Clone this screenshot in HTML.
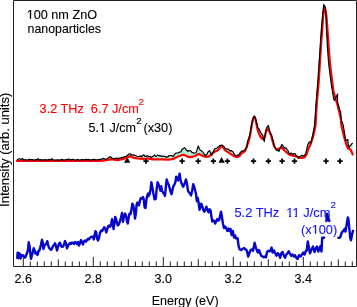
<!DOCTYPE html>
<html><head><meta charset="utf-8"><style>
html,body{margin:0;padding:0;background:#fff;}
body{width:357px;height:307px;overflow:hidden;}
svg{display:block;}
text{font-family:"Liberation Sans",sans-serif;stroke-width:0.12px;}
.tx{will-change:transform;}
</style></head><body>
<svg width="357" height="307" viewBox="0 0 357 307" xmlns="http://www.w3.org/2000/svg">
<defs><filter id="soft" x="-5%" y="-20%" width="110%" height="140%"><feGaussianBlur stdDeviation="0.3"/></filter></defs>
<rect width="357" height="307" fill="#fff"/>
<polygon points="17.0,159.6 17.2,159.5 17.5,159.4 17.8,159.3 18.0,159.2 18.2,159.1 18.5,159.0 18.8,158.9 19.0,158.9 19.2,158.9 19.5,158.8 19.8,158.8 20.0,158.9 20.2,159.0 20.5,159.1 20.8,159.2 21.0,159.3 21.2,159.4 21.5,159.2 21.8,159.1 22.0,158.9 22.2,158.8 22.5,158.6 22.8,158.7 23.0,159.0 23.2,159.3 23.5,159.6 23.8,159.8 24.0,160.1 24.2,160.0 24.5,159.9 24.8,159.8 25.0,159.7 25.2,159.6 25.5,159.6 25.8,159.7 26.0,159.8 26.2,159.9 26.5,160.1 26.8,160.2 27.0,160.1 27.2,160.0 27.5,160.0 27.8,159.9 28.0,159.8 28.2,159.7 28.5,159.6 28.8,159.6 29.0,159.5 29.2,159.5 29.5,159.4 29.8,159.4 30.0,159.5 30.2,159.5 30.5,159.5 30.8,159.6 31.0,159.6 31.2,159.6 31.5,159.6 31.8,159.5 32.0,159.5 32.2,159.5 32.5,159.5 32.8,159.6 33.0,159.7 33.2,159.8 33.5,159.9 33.8,160.1 34.0,160.1 34.2,160.0 34.5,160.0 34.8,159.9 35.0,159.9 35.2,159.9 35.5,159.8 35.8,159.8 36.0,159.8 36.2,159.7 36.5,159.7 36.8,159.6 37.0,159.4 37.2,159.2 37.5,159.1 37.8,158.9 38.0,158.7 38.2,159.0 38.5,159.2 38.8,159.4 39.0,159.6 39.2,159.8 39.5,159.9 39.8,159.9 40.0,159.8 40.2,159.8 40.5,159.7 40.8,159.6 41.0,159.7 41.2,159.7 41.5,159.7 41.8,159.7 42.0,159.7 42.2,159.8 42.5,159.8 42.8,159.9 43.0,159.9 43.2,160.0 43.5,160.0 43.8,160.0 44.0,159.9 44.2,159.8 44.5,159.7 44.8,159.7 45.0,159.6 45.2,159.6 45.5,159.7 45.8,159.7 46.0,159.8 46.2,159.8 46.5,159.8 46.8,159.9 47.0,159.9 47.2,159.9 47.5,160.0 47.8,160.0 48.0,159.9 48.2,159.8 48.5,159.7 48.8,159.6 49.0,159.5 49.2,159.4 49.5,159.5 49.8,159.6 50.0,159.8 50.2,159.9 50.5,160.0 50.8,159.9 51.0,159.7 51.2,159.4 51.5,159.2 51.8,159.0 52.0,158.8 52.2,159.0 52.5,159.2 52.8,159.4 53.0,159.7 53.2,159.9 53.5,160.0 53.8,160.1 54.0,160.1 54.2,160.1 54.5,160.1 54.8,160.1 55.0,160.1 55.2,160.1 55.5,160.1 55.8,160.0 56.0,160.0 56.2,160.0 56.5,160.0 56.8,159.9 57.0,159.9 57.2,159.9 57.5,159.9 57.8,159.9 58.0,159.9 58.2,160.0 58.5,160.0 58.8,160.1 59.0,160.1 59.2,160.0 59.5,160.0 59.8,159.9 60.0,159.9 60.2,159.8 60.5,159.8 60.8,159.7 61.0,159.6 61.2,159.6 61.5,159.5 61.8,159.4 62.0,159.5 62.2,159.6 62.5,159.7 62.8,159.8 63.0,159.9 63.2,159.9 63.5,160.0 63.8,160.0 64.0,160.0 64.2,160.1 64.5,160.1 64.8,160.0 65.0,160.0 65.2,159.9 65.5,159.8 65.8,159.8 66.0,159.7 66.2,159.6 66.5,159.6 66.8,159.5 67.0,159.5 67.2,159.4 67.5,159.3 67.8,159.3 68.0,159.2 68.2,159.1 68.5,159.0 68.8,159.0 69.0,159.1 69.2,159.3 69.5,159.5 69.8,159.7 70.0,159.9 70.2,160.0 70.5,159.9 70.8,159.9 71.0,159.8 71.2,159.7 71.5,159.6 71.8,159.5 72.0,159.5 72.2,159.4 72.5,159.4 72.8,159.3 73.0,159.3 73.2,159.4 73.5,159.5 73.8,159.6 74.0,159.7 74.2,159.8 74.5,159.9 74.8,159.9 75.0,159.9 75.2,160.0 75.5,160.0 75.8,160.1 76.0,160.0 76.2,159.9 76.5,159.8 76.8,159.8 77.0,159.7 77.2,159.6 77.5,159.6 77.8,159.6 78.0,159.6 78.2,159.7 78.5,159.7 78.8,159.7 79.0,159.8 79.2,159.9 79.5,160.0 79.8,160.1 80.0,160.2 80.2,160.1 80.5,160.0 80.8,159.8 81.0,159.7 81.2,159.6 81.5,159.5 81.8,159.5 82.0,159.5 82.2,159.5 82.5,159.5 82.8,159.6 83.0,159.6 83.2,159.7 83.5,159.7 83.8,159.8 84.0,159.8 84.2,159.9 84.5,159.8 84.8,159.7 85.0,159.6 85.2,159.5 85.5,159.4 85.8,159.4 86.0,159.4 86.2,159.5 86.5,159.6 86.8,159.6 87.0,159.7 87.2,159.6 87.5,159.4 87.8,159.3 88.0,159.2 88.2,159.3 88.5,159.4 88.8,159.5 89.0,159.6 89.2,159.8 89.5,159.9 89.8,160.0 90.0,160.1 90.2,160.0 90.5,160.0 90.8,159.9 91.0,159.9 91.2,159.8 91.5,159.8 91.8,159.8 92.0,159.7 92.2,159.7 92.5,159.6 92.8,159.6 93.0,159.6 93.2,159.5 93.5,159.5 93.8,159.4 94.0,159.4 94.2,159.5 94.5,159.5 94.8,159.6 95.0,159.7 95.2,159.7 95.5,159.8 95.8,159.8 96.0,159.9 96.2,159.9 96.5,159.8 96.8,159.8 97.0,159.8 97.2,159.8 97.5,159.8 97.8,159.7 98.0,159.7 98.2,159.7 98.5,159.6 98.8,159.6 99.0,159.6 99.2,159.5 99.5,159.5 99.8,159.4 100.0,159.4 100.2,159.4 100.5,159.3 100.8,159.3 101.0,159.3 101.2,159.3 101.5,159.2 101.8,159.2 102.0,159.2 102.2,159.1 102.5,158.9 102.8,158.8 103.0,158.7 103.2,158.5 103.5,158.4 103.8,158.5 104.0,158.7 104.2,158.8 104.5,158.9 104.8,159.1 105.0,159.2 105.2,159.1 105.5,159.1 105.8,159.1 106.0,159.0 106.2,158.9 106.5,158.9 106.8,158.9 107.0,158.8 107.2,158.6 107.5,158.4 107.8,158.2 108.0,158.0 108.2,157.8 108.5,157.6 108.8,157.5 109.0,157.4 109.2,157.3 109.5,157.1 109.8,157.0 110.0,156.9 110.2,156.8 110.5,156.7 110.8,156.9 111.0,157.1 111.2,157.3 111.5,157.6 111.8,157.8 112.0,158.0 112.2,158.1 112.5,158.3 112.8,158.4 113.0,158.5 113.2,158.7 113.5,158.8 113.8,158.8 114.0,158.7 114.2,158.7 114.5,158.6 114.8,158.6 115.0,158.5 115.2,158.5 115.5,158.4 115.8,158.3 116.0,158.3 116.2,158.2 116.5,158.1 116.8,158.1 117.0,158.0 117.2,158.2 117.5,158.3 117.8,158.4 118.0,158.6 118.2,158.5 118.5,158.4 118.8,158.3 119.0,158.2 119.2,158.2 119.5,158.2 119.8,158.2 120.0,158.2 120.2,158.1 120.5,158.0 120.8,157.8 121.0,157.7 121.2,157.6 121.5,157.5 121.8,157.4 122.0,157.3 122.2,157.4 122.5,157.4 122.8,157.5 123.0,157.5 123.2,157.4 123.5,157.2 123.8,157.1 124.0,156.9 124.2,156.8 124.5,156.7 124.8,156.6 125.0,156.6 125.2,156.5 125.5,156.5 125.8,156.5 126.0,156.5 126.2,156.3 126.5,156.0 126.8,155.8 127.0,155.6 127.2,155.4 127.5,155.2 127.8,155.0 128.0,154.8 128.2,154.6 128.5,154.4 128.8,154.2 129.0,154.0 129.2,153.9 129.5,153.8 129.8,153.8 130.0,153.7 130.2,153.9 130.5,154.1 130.8,154.2 131.0,154.4 131.2,154.6 131.5,154.8 131.8,155.0 132.0,155.2 132.2,155.1 132.5,155.0 132.8,154.8 133.0,154.7 133.2,154.8 133.5,155.0 133.8,155.1 134.0,155.2 134.2,155.2 134.5,155.3 134.8,155.3 135.0,155.4 135.2,155.4 135.5,155.5 135.8,155.6 136.0,155.7 136.2,155.8 136.5,155.9 136.8,156.0 137.0,156.2 137.2,156.2 137.5,156.3 137.8,156.4 138.0,156.5 138.2,156.5 138.5,156.5 138.8,156.5 139.0,156.6 139.2,156.4 139.5,156.3 139.8,156.2 140.0,156.1 140.2,156.0 140.5,156.0 140.8,155.9 141.0,155.9 141.2,156.1 141.5,156.3 141.8,156.6 142.0,156.8 142.2,156.4 142.5,155.9 142.8,155.5 143.0,155.2 143.2,155.0 143.5,154.8 143.8,154.9 144.0,155.0 144.2,155.1 144.5,155.5 144.8,156.0 145.0,156.5 145.2,156.5 145.5,156.4 145.8,156.4 146.0,156.4 146.2,156.2 146.5,156.0 146.8,155.9 147.0,155.7 147.2,155.8 147.5,155.9 147.8,156.0 148.0,156.1 148.2,156.2 148.5,156.3 148.8,156.4 149.0,156.5 149.2,156.5 149.5,156.5 149.8,156.4 150.0,156.3 150.2,156.3 150.5,156.6 150.8,157.0 151.0,157.3 151.2,157.3 151.5,157.4 151.8,157.4 152.0,157.1 152.2,156.8 152.5,156.5 152.8,156.4 153.0,156.3 153.2,156.2 153.5,156.1 153.8,155.8 154.0,155.5 154.2,155.1 154.5,154.8 154.8,155.1 155.0,155.4 155.2,155.7 155.5,156.0 155.8,156.2 156.0,156.5 156.2,156.3 156.5,156.1 156.8,155.9 157.0,155.7 157.2,155.4 157.5,155.2 157.8,155.2 158.0,155.2 158.2,155.1 158.5,155.5 158.8,155.8 159.0,156.1 159.2,155.8 159.5,155.6 159.8,155.3 160.0,155.5 160.2,155.7 160.5,155.9 160.8,156.0 161.0,156.1 161.2,156.1 161.5,156.3 161.8,156.4 162.0,156.5 162.2,156.3 162.5,156.2 162.8,156.0 163.0,155.9 163.2,156.0 163.5,156.2 163.8,156.3 164.0,156.5 164.2,156.5 164.5,156.5 164.8,156.4 165.0,156.4 165.2,156.6 165.5,156.9 165.8,157.1 166.0,157.3 166.2,157.1 166.5,157.0 166.8,156.8 167.0,156.7 167.2,156.7 167.5,156.8 167.8,156.8 168.0,156.9 168.2,156.6 168.5,156.3 168.8,156.0 169.0,155.6 169.2,155.7 169.5,155.7 169.8,155.7 170.0,155.7 170.2,155.7 170.5,155.6 170.8,155.6 171.0,155.6 171.2,155.7 171.5,155.7 171.8,155.8 172.0,155.9 172.2,155.9 172.5,156.1 172.8,156.3 173.0,156.5 173.2,156.3 173.5,156.0 173.8,155.8 174.0,155.3 174.2,154.9 174.5,154.4 174.8,154.2 175.0,153.9 175.2,153.7 175.5,153.5 175.8,153.3 176.0,153.1 176.2,153.1 176.5,153.1 176.8,153.0 177.0,153.0 177.2,152.9 177.5,152.9 177.8,152.8 178.0,152.8 178.2,152.7 178.5,152.6 178.8,152.5 179.0,152.4 179.2,152.3 179.5,152.2 179.8,152.1 180.0,152.0 180.2,151.9 180.5,151.9 180.8,151.8 181.0,151.8 181.2,151.2 181.5,150.5 181.8,149.8 182.0,149.2 182.2,149.1 182.5,149.0 182.8,148.9 183.0,148.7 183.2,148.6 183.5,148.4 183.8,148.2 184.0,148.0 184.2,147.8 184.5,147.6 184.8,147.9 185.0,148.2 185.2,148.5 185.5,148.8 185.8,149.2 186.0,149.7 186.2,150.1 186.5,150.5 186.8,150.6 187.0,150.7 187.2,150.7 187.5,150.9 187.8,151.1 188.0,151.3 188.2,151.1 188.5,150.9 188.8,150.7 189.0,150.7 189.2,150.8 189.5,150.8 189.8,150.7 190.0,150.7 190.2,150.6 190.5,150.5 190.8,150.8 191.0,151.2 191.2,151.5 191.5,151.8 191.8,152.1 192.0,152.4 192.2,152.7 192.5,152.7 192.8,152.6 193.0,152.6 193.2,152.8 193.5,152.9 193.8,153.1 194.0,153.3 194.2,153.2 194.5,153.1 194.8,153.1 195.0,153.0 195.2,152.9 195.5,152.8 195.8,152.7 196.0,152.4 196.2,152.1 196.5,151.8 196.8,151.0 197.0,150.1 197.2,149.2 197.5,148.4 197.8,147.7 198.0,146.9 198.2,146.2 198.5,146.5 198.8,147.1 199.0,147.7 199.2,148.3 199.5,148.8 199.8,149.3 200.0,149.7 200.2,150.1 200.5,150.5 200.8,150.5 201.0,150.6 201.2,150.6 201.5,150.8 201.8,151.1 202.0,151.3 202.2,151.6 202.5,151.8 202.8,152.1 203.0,152.3 203.2,152.7 203.5,153.2 203.8,153.6 204.0,154.0 204.2,154.2 204.5,154.4 204.8,154.6 205.0,155.1 205.2,155.6 205.5,156.1 205.8,155.7 206.0,155.3 206.2,154.9 206.5,154.7 206.8,154.6 207.0,154.4 207.2,153.7 207.5,153.0 207.8,152.3 208.0,152.0 208.2,151.7 208.5,151.4 208.8,151.3 209.0,151.2 209.2,151.1 209.5,150.8 209.8,150.7 210.0,151.4 210.2,152.0 210.5,152.6 210.8,153.2 211.0,153.7 211.2,154.3 211.5,154.5 211.8,154.2 212.0,153.9 212.2,153.7 212.5,153.2 212.8,152.8 213.0,152.3 213.2,151.8 213.5,151.4 213.8,150.8 214.0,150.1 214.2,149.4 214.5,149.2 214.8,149.0 215.0,148.8 215.2,148.6 215.5,148.6 215.8,148.5 216.0,148.5 216.2,148.4 216.5,148.4 216.8,148.3 217.0,147.9 217.2,147.6 217.5,147.2 217.8,147.2 218.0,147.1 218.2,147.1 218.5,146.9 218.8,146.6 219.0,146.4 219.2,146.1 219.5,145.8 219.8,145.5 220.0,145.7 220.2,145.8 220.5,146.0 220.8,145.7 221.0,145.4 221.2,145.1 221.5,145.1 221.8,145.1 222.0,145.1 222.2,145.4 222.5,145.7 222.8,145.9 223.0,146.0 223.2,146.0 223.5,146.0 223.8,146.3 224.0,146.6 224.2,146.9 224.5,147.3 224.8,147.7 225.0,148.1 225.2,148.3 225.5,148.5 225.8,148.8 226.0,149.0 226.2,149.0 226.5,148.9 226.8,148.9 227.0,148.9 227.2,149.0 227.5,149.0 227.8,149.1 228.0,149.1 228.2,149.3 228.5,149.5 228.8,149.6 229.0,149.8 229.2,150.1 229.5,150.4 229.8,150.7 230.0,151.0 230.2,150.9 230.5,150.8 230.8,150.7 231.0,150.6 231.2,150.8 231.5,150.9 231.8,151.1 232.0,151.3 232.2,151.4 232.5,151.5 232.8,151.5 233.0,152.0 233.2,152.5 233.5,153.0 233.8,153.4 234.0,153.7 234.2,154.1 234.5,154.4 234.8,154.8 235.0,155.1 235.2,155.3 235.5,155.6 235.8,155.8 236.0,156.0 236.2,155.9 236.5,155.8 236.8,155.7 237.0,155.5 237.2,155.2 237.5,155.0 237.8,155.1 238.0,155.2 238.2,155.4 238.5,155.5 238.8,155.0 239.0,154.4 239.2,153.9 239.5,153.6 239.8,153.3 240.0,153.0 240.2,152.7 240.5,152.4 240.8,152.1 241.0,151.8 241.2,151.5 241.5,151.2 241.8,151.0 242.0,151.1 242.2,151.2 242.5,151.3 242.8,151.1 243.0,150.8 243.2,150.6 243.5,150.6 243.8,150.5 244.0,150.5 244.2,150.3 244.5,150.1 244.8,149.9 245.0,149.4 245.2,148.9 245.5,148.4 245.8,148.1 246.0,147.8 246.2,147.6 246.5,147.1 246.8,146.7 247.0,146.1 247.2,143.9 247.5,141.6 247.8,140.9 248.0,140.2 248.2,139.6 248.5,138.9 248.8,138.2 249.0,137.6 249.2,136.9 249.5,136.2 249.8,135.0 250.0,133.8 250.2,132.6 250.5,131.2 250.8,129.6 251.0,128.1 251.2,126.6 251.5,125.0 251.8,123.6 252.0,122.4 252.2,121.3 252.5,120.1 252.8,119.3 253.0,118.4 253.2,117.6 253.5,117.1 253.8,116.8 254.0,116.5 254.2,116.2 254.5,116.4 254.8,116.8 255.0,117.1 255.2,117.6 255.5,118.6 255.8,119.6 256.0,120.6 256.2,121.6 256.5,122.5 256.8,123.5 257.0,124.5 257.2,125.4 257.5,126.4 257.8,127.3 258.0,127.8 258.2,128.1 258.5,128.5 258.8,128.7 259.0,128.9 259.2,129.2 259.5,129.7 259.8,130.4 260.0,131.1 260.2,131.8 260.5,132.2 260.8,132.6 261.0,133.0 261.2,133.4 261.5,133.8 261.8,134.2 262.0,134.6 262.2,134.8 262.5,134.9 262.8,135.6 263.0,136.8 263.2,137.9 263.5,138.8 263.8,138.7 264.0,138.1 264.2,137.4 264.5,136.8 264.8,136.0 265.0,135.3 265.2,134.5 265.5,132.9 265.8,131.5 266.0,130.2 266.2,128.8 266.5,127.9 266.8,127.6 267.0,127.4 267.2,127.2 267.5,126.9 267.8,126.5 268.0,126.1 268.2,125.6 268.5,125.9 268.8,127.1 269.0,128.3 269.2,129.6 269.5,130.5 269.8,131.3 270.0,132.1 270.2,132.9 270.5,133.5 270.8,133.8 271.0,134.2 271.2,134.5 271.5,134.8 271.8,135.7 272.0,136.6 272.2,137.4 272.5,138.3 272.8,139.2 273.0,140.1 273.2,140.9 273.5,141.8 273.8,143.4 274.0,145.1 274.2,145.6 274.5,146.1 274.8,146.7 275.0,147.2 275.2,147.7 275.5,148.2 275.8,148.6 276.0,148.8 276.2,148.9 276.5,149.0 276.8,149.2 277.0,149.3 277.2,149.2 277.5,149.2 277.8,149.1 278.0,149.0 278.2,149.0 278.5,148.9 278.8,148.8 279.0,148.6 279.2,148.5 279.5,148.4 279.8,148.2 280.0,148.1 280.2,147.9 280.5,147.7 280.8,147.0 281.0,146.4 281.2,145.8 281.5,145.2 281.8,144.9 282.0,144.7 282.2,144.7 282.5,145.0 282.8,145.4 283.0,145.9 283.2,146.5 283.5,147.2 283.8,147.2 284.0,147.2 284.2,147.3 284.5,147.7 284.8,148.1 285.0,148.5 285.2,148.3 285.5,148.1 285.8,147.9 286.0,148.1 286.2,148.3 286.5,148.5 286.8,148.9 287.0,149.4 287.2,149.8 287.5,150.1 287.8,150.3 288.0,150.6 288.2,151.2 288.5,151.8 288.8,152.5 289.0,153.1 289.2,153.3 289.5,153.6 289.8,153.8 290.0,154.0 290.2,153.7 290.5,153.4 290.8,153.1 291.0,153.1 291.2,153.1 291.5,153.1 291.8,153.3 292.0,153.5 292.2,153.7 292.5,153.9 292.8,154.2 293.0,154.4 293.2,154.2 293.5,154.0 293.8,153.8 294.0,153.7 294.2,153.6 294.5,153.5 294.8,153.6 295.0,153.8 295.2,153.9 295.5,154.3 295.8,154.8 296.0,155.2 296.2,155.5 296.5,155.8 296.8,156.0 297.0,156.2 297.2,156.3 297.5,156.5 297.8,156.9 298.0,157.2 298.2,157.3 298.5,157.4 298.8,157.6 299.0,157.3 299.2,156.8 299.5,156.7 299.8,156.6 300.0,156.5 300.2,156.4 300.5,156.2 300.8,156.1 301.0,155.9 301.2,155.8 301.5,155.6 301.8,155.5 302.0,155.4 302.2,155.3 302.5,155.6 302.8,155.9 303.0,156.2 303.2,156.0 303.5,155.8 303.8,155.7 304.0,155.6 304.2,155.6 304.5,155.2 304.8,154.8 305.0,154.5 305.2,154.4 305.5,154.3 305.8,153.3 306.0,152.4 306.2,151.4 306.5,150.4 306.8,149.2 307.0,148.1 307.2,147.0 307.5,145.8 307.8,145.2 308.0,144.5 308.2,143.8 308.5,143.2 308.8,142.9 309.0,142.6 309.2,142.2 309.5,141.9 309.8,142.2 310.0,142.6 310.2,142.9 310.5,143.2 310.8,142.4 311.0,141.6 311.2,140.8 311.5,140.0 311.8,139.0 312.0,138.0 312.2,137.0 312.5,136.0 312.8,134.7 313.0,133.4 313.2,132.2 313.5,130.9 313.8,129.6 314.0,128.3 314.2,127.0 314.5,125.7 314.8,122.2 315.0,118.6 315.2,115.1 315.5,111.5 315.8,108.0 316.0,104.4 316.2,101.3 316.5,98.1 316.8,95.0 317.0,91.8 317.2,88.7 317.5,85.5 317.8,82.3 318.0,78.7 318.2,75.1 318.5,71.5 318.8,67.9 319.0,64.3 319.2,60.8 319.5,57.2 319.8,53.6 320.0,50.0 320.2,45.8 320.5,41.7 320.8,38.0 321.0,34.5 321.2,31.1 321.5,27.7 321.8,24.5 322.0,21.7 322.2,19.0 322.5,16.3 322.8,13.6 323.0,11.2 323.2,9.0 323.5,6.9 323.8,4.8 324.0,4.9 324.2,5.6 324.5,6.2 324.8,6.6 325.0,6.8 325.2,7.6 325.5,9.9 325.8,10.9 326.0,13.0 326.2,15.1 326.5,17.2 326.8,20.0 327.0,23.3 327.2,26.7 327.5,30.0 327.8,33.6 328.0,37.1 328.2,40.7 328.5,44.3 328.8,47.9 329.0,51.3 329.2,54.4 329.5,57.5 329.8,60.6 330.0,63.7 330.2,66.2 330.5,68.2 330.8,70.2 331.0,72.2 331.2,74.2 331.5,76.2 331.8,78.2 332.0,80.2 332.2,82.2 332.5,84.2 332.8,86.1 333.0,87.9 333.2,89.7 333.5,91.5 333.8,92.4 334.0,93.2 334.2,94.1 334.5,94.9 334.8,95.8 335.0,96.6 335.2,97.5 335.5,98.2 335.8,97.7 336.0,97.2 336.2,96.7 336.5,96.2 336.8,95.7 337.0,95.3 337.2,94.8 337.5,94.3 337.8,95.2 338.0,96.9 338.2,98.7 338.5,100.4 338.8,102.2 339.0,104.0 339.2,105.7 339.5,107.5 339.8,109.2 340.0,111.0 340.2,111.3 340.5,111.6 340.8,113.5 341.0,116.4 341.2,119.4 341.5,120.5 341.8,121.2 342.0,121.9 342.2,122.6 342.5,123.3 342.8,124.0 343.0,124.7 343.2,125.5 343.5,127.0 343.8,128.5 344.0,130.0 344.2,131.5 344.5,133.0 344.8,134.5 345.0,136.0 345.2,137.5 345.5,139.0 345.8,140.5 346.0,140.7 346.2,140.5 346.5,140.3 346.8,140.2 347.0,140.0 347.2,139.9 347.5,139.7 347.8,139.5 348.0,142.5 348.2,144.5 348.5,145.5 348.8,146.4 349.0,147.3 349.2,147.0 349.5,146.7 349.8,146.4 350.0,146.1 350.2,145.7 350.5,145.4 350.8,145.1 351.0,144.8 351.2,144.5 351.5,144.2 351.8,143.9 352.0,143.6 352.2,143.2 352.5,142.9 352.5,154.2 352.2,153.5 352.0,152.8 351.8,152.0 351.5,151.5 351.2,151.1 351.0,150.7 350.8,150.2 350.5,149.8 350.2,149.5 350.0,149.4 349.8,149.3 349.5,149.2 349.2,149.1 349.0,149.0 348.8,148.9 348.5,148.8 348.2,148.7 348.0,148.4 347.8,147.9 347.5,147.4 347.2,146.9 347.0,146.4 346.8,145.8 346.5,145.0 346.2,144.2 346.0,143.4 345.8,142.6 345.5,141.8 345.2,141.0 345.0,140.1 344.8,139.3 344.5,138.3 344.2,137.3 344.0,136.2 343.8,135.2 343.5,134.2 343.2,133.2 343.0,132.2 342.8,131.2 342.5,130.2 342.2,129.1 342.0,128.1 341.8,127.1 341.5,125.6 341.2,123.3 341.0,121.1 340.8,118.8 340.5,117.1 340.2,116.1 340.0,115.1 339.8,114.0 339.5,113.0 339.2,112.0 339.0,111.0 338.8,110.0 338.5,109.0 338.2,108.0 338.0,106.9 337.8,105.9 337.5,104.9 337.2,104.0 337.0,103.2 336.8,102.4 336.5,101.6 336.2,100.8 336.0,100.0 335.8,99.1 335.5,98.3 335.2,97.5 335.0,96.6 334.8,95.8 334.5,94.9 334.2,94.1 334.0,93.2 333.8,92.4 333.5,91.5 333.2,89.7 333.0,87.9 332.8,86.1 332.5,84.2 332.2,82.2 332.0,80.2 331.8,78.2 331.5,76.2 331.2,74.2 331.0,72.2 330.8,70.2 330.5,68.2 330.2,66.2 330.0,63.7 329.8,60.6 329.5,57.5 329.2,54.4 329.0,51.3 328.8,47.9 328.5,44.3 328.2,40.7 328.0,37.1 327.8,33.6 327.5,30.0 327.2,26.7 327.0,23.3 326.8,20.0 326.5,17.2 326.2,15.1 326.0,13.0 325.8,10.9 325.5,9.9 325.2,9.2 325.0,8.5 324.8,7.8 324.5,8.4 324.2,9.1 324.0,9.7 323.8,11.3 323.5,13.5 323.2,15.7 323.0,18.4 322.8,21.8 322.5,25.3 322.2,28.7 322.0,32.0 321.8,35.3 321.5,38.7 321.2,42.1 321.0,45.7 320.8,49.3 320.5,53.1 320.2,57.1 320.0,61.0 319.8,64.9 319.5,68.9 319.2,72.8 319.0,76.7 318.8,80.6 318.5,84.1 318.2,86.9 318.0,89.8 317.8,92.6 317.5,95.4 317.2,98.2 317.0,101.0 316.8,103.8 316.5,107.9 316.2,112.4 316.0,116.8 315.8,121.3 315.5,125.7 315.2,126.8 315.0,127.9 314.8,129.1 314.5,130.2 314.2,131.3 314.0,132.5 313.8,133.7 313.5,134.8 313.2,135.8 313.0,136.8 312.8,137.7 312.5,138.7 312.2,139.4 312.0,140.2 311.8,140.9 311.5,141.7 311.2,142.4 311.0,143.2 310.8,143.8 310.5,144.3 310.2,144.8 310.0,145.4 309.8,145.9 309.5,146.5 309.2,147.0 309.0,147.6 308.8,148.1 308.5,148.6 308.2,149.2 308.0,149.7 307.8,150.5 307.5,151.2 307.2,152.0 307.0,152.8 306.8,153.5 306.5,154.3 306.2,154.7 306.0,155.1 305.8,155.4 305.5,155.8 305.2,156.2 305.0,156.6 304.8,156.9 304.5,157.3 304.2,157.4 304.0,157.5 303.8,157.5 303.5,157.6 303.2,157.7 303.0,157.8 302.8,157.8 302.5,157.9 302.2,157.9 302.0,157.9 301.8,157.9 301.5,158.0 301.2,158.0 301.0,158.0 300.8,158.0 300.5,157.9 300.2,157.9 300.0,157.8 299.8,157.8 299.5,157.8 299.2,157.7 299.0,157.7 298.8,157.6 298.5,157.4 298.2,157.3 298.0,157.2 297.8,157.1 297.5,156.9 297.2,156.8 297.0,156.7 296.8,156.6 296.5,156.5 296.2,156.5 296.0,156.4 295.8,156.3 295.5,156.2 295.2,156.2 295.0,156.1 294.8,156.0 294.5,156.0 294.2,155.9 294.0,155.8 293.8,155.8 293.5,155.7 293.2,155.7 293.0,155.6 292.8,155.5 292.5,155.5 292.2,155.4 292.0,155.4 291.8,155.3 291.5,155.3 291.2,155.2 291.0,155.2 290.8,155.1 290.5,155.0 290.2,154.9 290.0,154.8 289.8,154.7 289.5,154.6 289.2,154.5 289.0,154.4 288.8,154.2 288.5,154.0 288.2,153.8 288.0,153.6 287.8,153.3 287.5,153.1 287.2,152.9 287.0,152.7 286.8,152.5 286.5,152.3 286.2,152.1 286.0,151.8 285.8,151.6 285.5,151.4 285.2,151.2 285.0,151.0 284.8,150.7 284.5,150.5 284.2,150.2 284.0,149.9 283.8,149.7 283.5,149.4 283.2,149.2 283.0,148.9 282.8,148.7 282.5,148.4 282.2,148.2 282.0,147.9 281.8,147.6 281.5,147.4 281.2,147.2 281.0,147.4 280.8,147.6 280.5,147.8 280.2,147.9 280.0,148.1 279.8,148.2 279.5,148.4 279.2,148.5 279.0,148.6 278.8,148.8 278.5,148.9 278.2,149.0 278.0,149.0 277.8,149.1 277.5,149.2 277.2,149.2 277.0,149.3 276.8,149.2 276.5,149.0 276.2,148.9 276.0,148.8 275.8,148.6 275.5,148.5 275.2,148.1 275.0,147.7 274.8,147.2 274.5,146.8 274.2,146.4 274.0,146.0 273.8,145.1 273.5,144.2 273.2,143.4 273.0,142.5 272.8,141.7 272.5,140.8 272.2,139.9 272.0,139.1 271.8,138.1 271.5,137.1 271.2,136.1 271.0,135.3 270.8,134.7 270.5,134.2 270.2,133.6 270.0,133.0 269.8,132.3 269.5,131.7 269.2,131.1 269.0,130.7 268.8,130.3 268.5,129.9 268.2,129.6 268.0,129.2 267.8,129.1 267.5,129.4 267.2,129.7 267.0,129.9 266.8,130.2 266.5,130.7 266.2,131.2 266.0,131.9 265.8,132.8 265.5,133.7 265.2,134.5 265.0,135.3 264.8,136.0 264.5,136.8 264.2,137.4 264.0,138.1 263.8,138.7 263.5,139.1 263.2,139.0 263.0,138.9 262.8,138.9 262.5,138.8 262.2,138.7 262.0,138.5 261.8,138.3 261.5,138.2 261.2,137.8 261.0,137.5 260.8,137.1 260.5,136.8 260.2,136.4 260.0,135.8 259.8,135.3 259.5,134.7 259.2,134.2 259.0,133.6 258.8,133.0 258.5,132.3 258.2,131.7 258.0,131.0 257.8,130.0 257.5,129.1 257.2,128.1 257.0,126.9 256.8,125.5 256.5,124.0 256.2,122.8 256.0,121.5 255.8,120.2 255.5,119.0 255.2,118.5 255.0,118.1 254.8,117.6 254.5,117.2 254.2,116.9 254.0,117.4 253.8,117.9 253.5,118.5 253.2,119.0 253.0,119.5 252.8,120.6 252.5,121.7 252.2,122.7 252.0,123.8 251.8,125.3 251.5,126.9 251.2,128.4 251.0,129.9 250.8,131.5 250.5,133.0 250.2,134.2 250.0,135.4 249.8,136.6 249.5,137.8 249.2,138.8 249.0,139.7 248.8,140.7 248.5,141.6 248.2,142.3 248.0,142.9 247.8,143.6 247.5,144.3 247.2,145.2 247.0,146.1 246.8,146.9 246.5,147.8 246.2,148.3 246.0,148.8 245.8,149.4 245.5,149.9 245.2,150.4 245.0,150.9 244.8,151.1 244.5,151.3 244.2,151.5 244.0,151.8 243.8,152.0 243.5,152.2 243.2,152.4 243.0,152.6 242.8,152.8 242.5,152.9 242.2,153.1 242.0,153.2 241.8,153.4 241.5,153.6 241.2,153.7 241.0,153.9 240.8,154.2 240.5,154.6 240.2,154.9 240.0,155.3 239.8,155.7 239.5,156.0 239.2,156.1 239.0,156.3 238.8,156.4 238.5,156.5 238.2,156.7 238.0,156.8 237.8,156.8 237.5,156.8 237.2,156.8 237.0,156.8 236.8,156.8 236.5,156.8 236.2,156.8 236.0,156.8 235.8,156.7 235.5,156.6 235.2,156.5 235.0,156.4 234.8,156.4 234.5,156.3 234.2,156.2 234.0,156.1 233.8,156.0 233.5,155.8 233.2,155.7 233.0,155.6 232.8,155.4 232.5,155.2 232.2,155.1 232.0,154.9 231.8,154.7 231.5,154.5 231.2,154.4 231.0,154.2 230.8,154.0 230.5,153.9 230.2,153.7 230.0,153.6 229.8,153.4 229.5,153.2 229.2,153.1 229.0,152.9 228.8,152.7 228.5,152.6 228.2,152.4 228.0,152.2 227.8,152.1 227.5,151.9 227.2,151.8 227.0,151.6 226.8,151.4 226.5,151.2 226.2,151.0 226.0,150.8 225.8,150.6 225.5,150.4 225.2,150.2 225.0,150.0 224.8,149.7 224.5,149.3 224.2,148.9 224.0,148.6 223.8,148.2 223.5,147.9 223.2,147.6 223.0,147.2 222.8,146.9 222.5,146.5 222.2,146.2 222.0,145.8 221.8,146.0 221.5,146.2 221.2,146.4 221.0,146.6 220.8,146.8 220.5,147.0 220.2,147.3 220.0,147.7 219.8,148.1 219.5,148.4 219.2,148.8 219.0,149.1 218.8,149.3 218.5,149.5 218.2,149.7 218.0,149.9 217.8,150.2 217.5,150.4 217.2,150.6 217.0,150.8 216.8,150.9 216.5,151.0 216.2,151.1 216.0,151.2 215.8,151.3 215.5,151.4 215.2,151.5 215.0,151.6 214.8,151.8 214.5,151.9 214.2,152.1 214.0,152.2 213.8,152.4 213.5,152.6 213.2,152.7 213.0,152.9 212.8,153.2 212.5,153.4 212.2,153.7 212.0,153.9 211.8,154.2 211.5,154.5 211.2,154.7 211.0,155.0 210.8,155.2 210.5,155.3 210.2,155.5 210.0,155.7 209.8,155.9 209.5,156.1 209.2,156.2 209.0,156.4 208.8,156.5 208.5,156.6 208.2,156.6 208.0,156.7 207.8,156.8 207.5,156.8 207.2,156.9 207.0,157.0 206.8,156.9 206.5,156.9 206.2,156.8 206.0,156.8 205.8,156.8 205.5,156.7 205.2,156.7 205.0,156.6 204.8,156.5 204.5,156.4 204.2,156.3 204.0,156.2 203.8,156.2 203.5,156.1 203.2,156.0 203.0,155.9 202.8,155.8 202.5,155.7 202.2,155.5 202.0,155.4 201.8,155.3 201.5,155.2 201.2,155.0 201.0,154.9 200.8,154.8 200.5,154.7 200.2,154.5 200.0,154.4 199.8,154.3 199.5,154.2 199.2,154.0 199.0,153.9 198.8,154.0 198.5,154.1 198.2,154.2 198.0,154.4 197.8,154.5 197.5,154.6 197.2,154.8 197.0,154.9 196.8,155.1 196.5,155.2 196.2,155.3 196.0,155.5 195.8,155.7 195.5,155.8 195.2,155.9 195.0,156.0 194.8,156.1 194.5,156.2 194.2,156.2 194.0,156.3 193.8,156.4 193.5,156.5 193.2,156.6 193.0,156.7 192.8,156.7 192.5,156.8 192.2,156.8 192.0,156.8 191.8,156.9 191.5,156.9 191.2,156.9 191.0,157.0 190.8,157.0 190.5,157.0 190.2,157.1 190.0,157.1 189.8,157.0 189.5,157.0 189.2,156.9 189.0,156.9 188.8,156.8 188.5,156.8 188.2,156.8 188.0,156.7 187.8,156.7 187.5,156.6 187.2,156.5 187.0,156.3 186.8,156.2 186.5,156.1 186.2,155.9 186.0,155.8 185.8,155.6 185.5,155.5 185.2,155.4 185.0,155.3 184.8,155.2 184.5,155.1 184.2,155.0 184.0,154.9 183.8,154.8 183.5,154.7 183.2,154.8 183.0,154.8 182.8,154.9 182.5,154.9 182.2,155.0 182.0,155.1 181.8,155.1 181.5,155.2 181.2,155.3 181.0,155.4 180.8,155.5 180.5,155.6 180.2,155.7 180.0,155.8 179.8,155.9 179.5,156.0 179.2,156.1 179.0,156.2 178.8,156.3 178.5,156.4 178.2,156.5 178.0,156.6 177.8,156.7 177.5,156.8 177.2,156.9 177.0,157.0 176.8,157.1 176.5,157.2 176.2,157.3 176.0,157.4 175.8,157.6 175.5,157.7 175.2,157.8 175.0,157.9 174.8,158.1 174.5,158.2 174.2,158.4 174.0,158.6 173.8,158.7 173.5,158.7 173.2,158.8 173.0,158.8 172.8,158.9 172.5,158.9 172.2,159.0 172.0,159.1 171.8,159.1 171.5,159.2 171.2,159.2 171.0,159.3 170.8,159.3 170.5,159.4 170.2,159.4 170.0,159.4 169.8,159.4 169.5,159.4 169.2,159.5 169.0,159.5 168.8,159.5 168.5,159.6 168.2,159.6 168.0,159.6 167.8,159.6 167.5,159.6 167.2,159.6 167.0,159.6 166.8,159.6 166.5,159.5 166.2,159.5 166.0,159.5 165.8,159.5 165.5,159.5 165.2,159.5 165.0,159.5 164.8,159.5 164.5,159.5 164.2,159.4 164.0,159.4 163.8,159.4 163.5,159.4 163.2,159.4 163.0,159.4 162.8,159.4 162.5,159.4 162.2,159.4 162.0,159.4 161.8,159.4 161.5,159.4 161.2,159.4 161.0,159.4 160.8,159.4 160.5,159.4 160.2,159.4 160.0,159.4 159.8,159.4 159.5,159.4 159.2,159.4 159.0,159.4 158.8,159.4 158.5,159.4 158.2,159.4 158.0,159.4 157.8,159.4 157.5,159.4 157.2,159.4 157.0,159.4 156.8,159.4 156.5,159.4 156.2,159.4 156.0,159.4 155.8,159.4 155.5,159.4 155.2,159.3 155.0,159.3 154.8,159.3 154.5,159.3 154.2,159.3 154.0,159.3 153.8,159.3 153.5,159.3 153.2,159.3 153.0,159.3 152.8,159.3 152.5,159.2 152.2,159.2 152.0,159.1 151.8,159.1 151.5,159.1 151.2,159.0 151.0,159.0 150.8,158.9 150.5,158.9 150.2,158.8 150.0,158.8 149.8,158.8 149.5,158.7 149.2,158.7 149.0,158.6 148.8,158.6 148.5,158.5 148.2,158.5 148.0,158.4 147.8,158.4 147.5,158.4 147.2,158.5 147.0,158.5 146.8,158.5 146.5,158.6 146.2,158.6 146.0,158.6 145.8,158.6 145.5,158.6 145.2,158.7 145.0,158.7 144.8,158.7 144.5,158.7 144.2,158.7 144.0,158.7 143.8,158.8 143.5,158.8 143.2,158.8 143.0,158.8 142.8,158.8 142.5,158.8 142.2,158.8 142.0,158.7 141.8,158.7 141.5,158.7 141.2,158.7 141.0,158.7 140.8,158.7 140.5,158.6 140.2,158.6 140.0,158.6 139.8,158.6 139.5,158.6 139.2,158.6 139.0,158.5 138.8,158.5 138.5,158.5 138.2,158.5 138.0,158.5 137.8,158.4 137.5,158.4 137.2,158.4 137.0,158.4 136.8,158.4 136.5,158.3 136.2,158.3 136.0,158.2 135.8,158.2 135.5,158.2 135.2,158.1 135.0,158.1 134.8,158.0 134.5,158.0 134.2,157.9 134.0,157.9 133.8,157.8 133.5,157.7 133.2,157.5 133.0,157.4 132.8,157.3 132.5,157.2 132.2,157.0 132.0,156.9 131.8,156.8 131.5,156.6 131.2,156.5 131.0,156.4 130.8,156.2 130.5,156.1 130.2,156.2 130.0,156.2 129.8,156.3 129.5,156.4 129.2,156.4 129.0,156.5 128.8,156.7 128.5,156.8 128.2,157.0 128.0,157.2 127.8,157.3 127.5,157.5 127.2,157.6 127.0,157.8 126.8,157.9 126.5,157.9 126.2,158.0 126.0,158.1 125.8,158.1 125.5,158.2 125.2,158.3 125.0,158.3 124.8,158.4 124.5,158.5 124.2,158.5 124.0,158.6 123.8,158.7 123.5,158.7 123.2,158.8 123.0,158.9 122.8,158.9 122.5,159.0 122.2,159.1 122.0,159.1 121.8,159.2 121.5,159.3 121.2,159.3 121.0,159.4 120.8,159.5 120.5,159.5 120.2,159.6 120.0,159.6 119.8,159.7 119.5,159.8 119.2,159.8 119.0,159.9 118.8,159.9 118.5,160.0 118.2,160.0 118.0,160.1 117.8,160.1 117.5,160.0 117.2,160.0 117.0,160.0 116.8,160.0 116.5,159.9 116.2,159.9 116.0,159.9 115.8,159.9 115.5,159.8 115.2,159.8 115.0,159.8 114.8,159.8 114.5,159.8 114.2,159.7 114.0,159.7 113.8,159.6 113.5,159.6 113.2,159.5 113.0,159.4 112.8,159.4 112.5,159.3 112.2,159.3 112.0,159.2 111.8,159.2 111.5,159.2 111.2,159.3 111.0,159.3 110.8,159.3 110.5,159.3 110.2,159.4 110.0,159.4 109.8,159.5 109.5,159.5 109.2,159.6 109.0,159.7 108.8,159.7 108.5,159.8 108.2,159.8 108.0,159.9 107.8,159.9 107.5,160.0 107.2,160.0 107.0,160.0 106.8,160.1 106.5,160.1 106.2,160.1 106.0,160.2 105.8,160.2 105.5,160.2 105.2,160.3 105.0,160.3 104.8,160.3 104.5,160.4 104.2,160.4 104.0,160.4 103.8,160.4 103.5,160.5 103.2,160.5 103.0,160.5 102.8,160.5 102.5,160.6 102.2,160.6 102.0,160.6 101.8,160.6 101.5,160.7 101.2,160.7 101.0,160.7 100.8,160.7 100.5,160.8 100.2,160.8 100.0,160.8 99.8,160.8 99.5,160.8 99.2,160.8 99.0,160.8 98.8,160.8 98.5,160.8 98.2,160.8 98.0,160.8 97.8,160.8 97.5,160.8 97.2,160.8 97.0,160.8 96.8,160.8 96.5,160.8 96.2,160.8 96.0,160.8 95.8,160.8 95.5,160.8 95.2,160.8 95.0,160.8 94.8,160.8 94.5,160.8 94.2,160.8 94.0,160.8 93.8,160.8 93.5,160.8 93.2,160.8 93.0,160.8 92.8,160.8 92.5,160.8 92.2,160.8 92.0,160.8 91.8,160.8 91.5,160.8 91.2,160.8 91.0,160.8 90.8,160.8 90.5,160.8 90.2,160.8 90.0,160.8 89.8,160.8 89.5,160.8 89.2,160.8 89.0,160.8 88.8,160.8 88.5,160.8 88.2,160.8 88.0,160.8 87.8,160.8 87.5,160.8 87.2,160.8 87.0,160.8 86.8,160.8 86.5,160.8 86.2,160.8 86.0,160.8 85.8,160.8 85.5,160.8 85.2,160.8 85.0,160.8 84.8,160.8 84.5,160.8 84.2,160.8 84.0,160.8 83.8,160.8 83.5,160.8 83.2,160.8 83.0,160.8 82.8,160.8 82.5,160.8 82.2,160.8 82.0,160.8 81.8,160.8 81.5,160.8 81.2,160.8 81.0,160.8 80.8,160.8 80.5,160.8 80.2,160.8 80.0,160.8 79.8,160.8 79.5,160.8 79.2,160.8 79.0,160.8 78.8,160.8 78.5,160.8 78.2,160.8 78.0,160.8 77.8,160.8 77.5,160.8 77.2,160.8 77.0,160.8 76.8,160.8 76.5,160.8 76.2,160.8 76.0,160.8 75.8,160.8 75.5,160.8 75.2,160.8 75.0,160.8 74.8,160.8 74.5,160.8 74.2,160.8 74.0,160.8 73.8,160.8 73.5,160.8 73.2,160.8 73.0,160.8 72.8,160.8 72.5,160.8 72.2,160.8 72.0,160.8 71.8,160.8 71.5,160.8 71.2,160.8 71.0,160.8 70.8,160.8 70.5,160.8 70.2,160.8 70.0,160.8 69.8,160.8 69.5,160.8 69.2,160.8 69.0,160.8 68.8,160.8 68.5,160.8 68.2,160.8 68.0,160.8 67.8,160.8 67.5,160.8 67.2,160.8 67.0,160.8 66.8,160.8 66.5,160.8 66.2,160.8 66.0,160.8 65.8,160.8 65.5,160.8 65.2,160.8 65.0,160.8 64.8,160.8 64.5,160.8 64.2,160.8 64.0,160.8 63.8,160.8 63.5,160.8 63.2,160.8 63.0,160.8 62.8,160.8 62.5,160.8 62.2,160.8 62.0,160.8 61.8,160.8 61.5,160.8 61.2,160.8 61.0,160.8 60.8,160.8 60.5,160.8 60.2,160.8 60.0,160.8 59.8,160.8 59.5,160.8 59.2,160.8 59.0,160.8 58.8,160.8 58.5,160.8 58.2,160.8 58.0,160.8 57.8,160.8 57.5,160.8 57.2,160.8 57.0,160.8 56.8,160.8 56.5,160.8 56.2,160.8 56.0,160.8 55.8,160.8 55.5,160.8 55.2,160.8 55.0,160.8 54.8,160.8 54.5,160.8 54.2,160.8 54.0,160.8 53.8,160.8 53.5,160.8 53.2,160.8 53.0,160.8 52.8,160.8 52.5,160.8 52.2,160.8 52.0,160.8 51.8,160.8 51.5,160.8 51.2,160.8 51.0,160.8 50.8,160.8 50.5,160.8 50.2,160.8 50.0,160.9 49.8,160.9 49.5,160.9 49.2,160.9 49.0,160.9 48.8,160.9 48.5,160.9 48.2,160.9 48.0,160.9 47.8,160.9 47.5,160.9 47.2,160.9 47.0,160.9 46.8,160.9 46.5,160.9 46.2,160.9 46.0,160.9 45.8,160.9 45.5,160.9 45.2,160.9 45.0,160.9 44.8,160.9 44.5,160.9 44.2,160.9 44.0,160.9 43.8,160.9 43.5,160.9 43.2,160.9 43.0,160.9 42.8,160.9 42.5,160.9 42.2,160.9 42.0,160.9 41.8,160.9 41.5,160.9 41.2,160.9 41.0,160.9 40.8,160.9 40.5,160.9 40.2,160.9 40.0,160.9 39.8,160.9 39.5,160.9 39.2,160.9 39.0,160.9 38.8,160.9 38.5,160.9 38.2,160.9 38.0,160.9 37.8,160.9 37.5,160.9 37.2,160.9 37.0,160.9 36.8,160.9 36.5,160.9 36.2,160.9 36.0,160.9 35.8,160.9 35.5,160.9 35.2,160.9 35.0,160.9 34.8,160.9 34.5,160.9 34.2,160.9 34.0,160.9 33.8,160.9 33.5,160.9 33.2,160.9 33.0,160.9 32.8,160.9 32.5,160.9 32.2,160.9 32.0,160.9 31.8,160.9 31.5,160.9 31.2,160.9 31.0,160.9 30.8,160.9 30.5,160.9 30.2,160.9 30.0,160.9 29.8,160.9 29.5,160.9 29.2,160.9 29.0,160.9 28.8,160.9 28.5,160.9 28.2,160.9 28.0,160.9 27.8,160.9 27.5,160.9 27.2,160.9 27.0,160.9 26.8,160.9 26.5,160.9 26.2,160.9 26.0,160.9 25.8,160.9 25.5,160.9 25.2,160.9 25.0,160.9 24.8,160.9 24.5,160.9 24.2,160.9 24.0,160.9 23.8,160.9 23.5,160.9 23.2,160.9 23.0,160.9 22.8,160.9 22.5,160.9 22.2,160.9 22.0,160.9 21.8,160.9 21.5,160.9 21.2,160.9 21.0,160.9 20.8,160.9 20.5,160.9 20.2,160.9 20.0,160.9 19.8,160.9 19.5,160.9 19.2,160.9 19.0,160.9 18.8,160.9 18.5,160.9 18.2,160.9 18.0,160.9 17.8,160.9 17.5,160.9 17.2,160.9 17.0,160.9" fill="#b4eed8" stroke="none"/>
<g fill="#000"><polygon points="124.05,162.8 130.35,162.8 127.20,157.0" /><polygon points="218.45,162.8 224.75,162.8 221.60,157.0" /></g>
<polyline points="17.0,160.9 40.0,160.9 60.0,160.8 88.0,160.8 100.0,160.8 105.0,160.3 108.0,159.9 110.0,159.4 112.0,159.2 114.0,159.7 118.0,160.1 121.0,159.4 124.0,158.6 127.0,157.8 129.0,156.5 130.5,156.1 132.0,156.9 134.0,157.9 137.0,158.4 140.0,158.6 143.0,158.8 146.0,158.6 148.0,158.4 150.0,158.8 153.0,159.3 158.0,159.4 163.0,159.4 168.0,159.6 171.0,159.3 174.0,158.6 175.0,157.9 177.0,157.0 179.0,156.2 181.5,155.2 183.5,154.7 185.5,155.5 187.5,156.6 190.0,157.1 193.0,156.7 195.5,155.8 197.5,154.6 199.0,153.9 201.0,154.9 203.0,155.9 205.0,156.6 207.0,157.0 209.0,156.4 211.0,155.0 213.0,152.9 215.0,151.6 217.0,150.8 219.0,149.1 220.5,147.0 222.0,145.8 223.5,147.9 225.0,150.0 227.0,151.6 229.0,152.9 231.0,154.2 233.0,155.6 234.0,156.1 236.0,156.8 238.0,156.8 239.5,156.0 241.0,153.9 243.0,152.6 245.0,150.9 246.5,147.8 247.5,144.3 248.5,141.6 249.5,137.8 250.5,133.0 251.3,128.1 252.0,123.8 253.0,119.5 254.3,116.8 255.5,119.0 256.5,124.0 257.1,127.5 258.0,131.0 258.9,133.4 260.3,136.5 261.5,138.2 262.5,138.8 263.6,139.1 264.5,136.8 265.4,134.1 266.1,131.5 266.8,130.1 267.9,129.0 269.3,131.2 270.2,133.5 271.1,135.5 272.0,139.1 273.0,142.5 274.0,146.0 275.5,148.5 277.0,149.3 278.5,148.9 280.0,148.1 281.3,147.2 283.0,148.9 285.0,151.0 287.0,152.7 289.0,154.4 291.0,155.2 293.0,155.6 295.0,156.1 297.0,156.7 299.0,157.7 301.0,158.0 302.5,157.9 304.5,157.3 306.5,154.3 308.0,149.7 309.5,146.5 311.0,143.2 312.5,138.7 313.5,134.8 314.5,130.2 315.5,125.7 316.7,104.4 318.6,83.0 320.7,50.0 321.4,40.0 322.3,28.0 323.1,17.0 323.9,10.0 324.8,7.8 325.7,10.5 326.6,18.0 327.5,30.0 328.9,50.0 330.1,65.0 332.6,85.0 333.5,91.5 335.4,98.0 337.4,104.5 339.0,111.0 340.6,117.5 341.6,126.5 343.2,133.0 344.8,139.5 346.8,146.0 348.1,148.6 350.4,149.6 351.7,151.9 352.6,154.5" fill="none" stroke="#ff0000" stroke-width="2.2" stroke-linejoin="round" stroke-linecap="round"/>
<polyline points="17.0,159.6 18.4,159.0 19.8,158.8 21.2,159.4 22.6,158.6 24.0,160.1 25.4,159.6 26.8,160.2 28.2,159.7 29.6,159.4 31.0,159.6 32.4,159.5 33.8,160.1 35.2,159.9 36.6,159.7 38.0,158.7 39.4,160.0 40.8,159.6 42.2,159.8 43.6,160.1 45.0,159.6 46.4,159.8 47.8,160.0 49.2,159.4 50.6,160.0 52.0,158.8 53.4,160.0 54.8,160.1 56.2,160.0 57.6,159.9 59.0,160.1 60.4,159.8 61.8,159.4 63.2,159.9 64.6,160.1 66.0,159.7 67.4,159.4 68.8,159.0 70.2,160.0 71.6,159.6 73.0,159.3 74.4,159.8 75.8,160.1 77.2,159.6 78.6,159.7 80.0,160.2 81.4,159.5 82.8,159.6 84.2,159.9 85.6,159.4 87.0,159.7 88.0,159.2 90.0,160.1 92.0,159.7 94.0,159.4 96.0,159.9 98.0,159.7 100.0,159.4 102.0,159.2 103.5,158.4 105.0,159.2 107.0,158.8 108.5,157.6 110.5,156.7 112.0,158.0 113.5,158.8 115.5,158.4 117.0,158.0 118.0,158.6 119.0,158.2 120.0,158.2 121.0,157.7 122.0,157.3 123.0,157.5 124.0,156.9 125.0,156.6 126.0,156.5 126.8,155.8 127.5,155.2 128.2,154.6 129.0,154.0 130.0,153.7 131.0,154.4 132.0,155.2 133.0,154.7 134.0,155.2 135.0,155.4 136.0,155.7 137.0,156.2 138.0,156.5 139.0,156.6 140.0,156.1 141.0,155.9 142.0,156.8 142.8,155.5 143.5,154.8 144.2,155.1 145.0,156.5 146.0,156.4 147.0,155.7 148.0,156.1 148.8,156.4 149.5,156.5 150.2,156.3 151.0,157.3 151.8,157.4 152.5,156.5 153.5,156.1 154.5,154.8 155.2,155.7 156.0,156.5 156.8,155.9 157.5,155.2 158.2,155.1 159.0,156.1 159.8,155.3 160.5,155.9 161.2,156.1 162.0,156.5 163.0,155.9 164.0,156.5 165.0,156.4 166.0,157.3 167.0,156.7 168.0,156.9 169.0,155.6 170.0,155.7 170.8,155.6 171.5,155.7 172.2,155.9 173.0,156.5 173.8,155.8 174.5,154.4 175.2,153.7 176.0,153.1 177.0,153.0 178.0,152.8 179.0,152.4 180.0,152.0 181.0,151.8 182.0,149.2 182.8,148.9 183.5,148.4 184.5,147.6 185.5,148.8 186.5,150.5 187.2,150.7 188.0,151.3 188.8,150.7 189.5,150.8 190.5,150.5 191.5,151.8 192.2,152.7 193.0,152.6 194.0,153.3 195.0,153.0 195.8,152.7 196.5,151.8 197.5,148.4 198.3,146.0 199.3,148.4 199.9,149.6 200.5,150.5 201.2,150.6 202.0,151.3 203.0,152.3 204.0,154.0 204.8,154.6 205.5,156.1 206.2,154.9 207.0,154.4 207.8,152.3 208.5,151.4 209.1,151.2 209.7,150.6 210.7,153.1 211.7,155.2 212.3,153.5 213.0,152.3 213.7,151.1 214.3,149.3 215.2,148.7 216.0,148.5 216.8,148.3 217.5,147.2 218.2,147.1 219.0,146.4 219.8,145.5 220.5,146.0 221.2,145.1 222.0,145.1 222.8,145.9 223.5,146.0 224.2,146.9 225.0,148.1 226.0,149.0 227.0,148.9 228.0,149.1 229.0,149.8 230.0,151.0 231.0,150.6 232.0,151.3 232.8,151.5 233.5,153.0 234.2,154.1 235.0,155.1 236.0,156.0 236.8,155.7 237.5,155.0 238.5,155.5 239.2,153.9 240.0,153.0 241.0,151.8 241.8,151.0 242.5,151.3 243.2,150.6 244.0,150.5 244.8,149.9 245.5,148.4 246.2,147.6 247.0,146.3 247.5,141.6 248.5,138.9 249.5,136.2 250.3,132.4 251.0,128.1 251.7,123.8 252.5,120.1 253.3,117.4 254.3,116.1 255.2,117.4 256.0,120.6 257.0,124.5 257.8,127.5 258.6,128.6 259.3,129.2 260.3,131.9 261.3,133.5 262.1,134.8 262.6,134.9 263.2,137.7 264.3,141.6 265.4,133.4 266.4,128.0 267.5,126.9 268.4,125.4 269.3,129.8 270.4,133.4 271.5,134.8 272.5,138.3 273.5,141.8 274.0,145.1 275.0,147.2 276.0,149.3 277.0,150.6 278.0,150.2 279.0,151.4 280.0,148.9 281.0,146.4 281.6,144.9 282.2,144.6 282.9,145.5 283.5,147.2 284.2,147.3 285.0,148.5 285.8,147.9 286.5,148.5 287.2,149.8 288.0,150.6 289.0,153.1 290.0,154.0 290.8,153.1 291.5,153.1 292.2,153.7 293.0,154.4 293.8,153.8 294.5,153.5 295.2,153.9 296.0,155.2 296.8,156.0 297.5,156.5 298.5,158.2 299.2,156.8 300.0,156.5 300.8,156.1 301.5,155.6 302.2,155.3 303.0,156.2 303.6,155.7 304.3,155.6 304.9,154.5 305.5,154.3 306.5,150.4 307.5,145.8 308.5,143.2 309.5,141.9 310.5,143.2 311.5,140.0 312.5,136.0 313.5,130.9 314.5,125.7 316.0,104.4 317.7,83.0 320.0,50.0 320.6,40.0 321.7,25.0 322.9,12.0 323.8,4.4 324.6,6.5 325.2,7.0 325.9,15.0 326.5,30.0 327.6,50.0 328.8,65.0 331.4,85.0 333.5,98.0 334.3,100.5 337.6,94.1 337.4,101.9 340.0,111.0 340.6,111.7 341.3,120.0 343.2,125.2 344.5,133.0 345.8,140.8 347.8,139.5 348.1,144.0 349.0,147.3 352.6,142.8" fill="none" stroke="#000" stroke-width="1.2" stroke-linejoin="round"/>
<polyline points="17.2,258.8 17.6,252.8 18.2,258.2 18.8,253.0 19.4,257.8 20.0,254.0 20.6,258.6 21.3,255.0 22.0,256.0 23.0,255.2 24.0,256.6 25.0,257.6 26.0,255.6 27.0,253.3 28.0,249.6 28.7,242.3 29.5,245.7 30.3,253.6 31.0,258.9 32.0,255.0 33.0,251.1 33.7,248.2 34.5,250.1 35.5,253.6 36.5,252.6 37.5,255.0 38.5,251.1 39.3,250.6 40.0,248.5 41.0,244.6 42.0,239.7 42.8,242.7 43.5,249.0 44.5,245.1 45.5,244.6 46.5,243.2 47.3,241.2 48.0,244.6 49.0,247.6 50.0,249.0 51.0,250.0 52.0,248.5 53.0,246.1 54.0,245.1 55.0,243.2 56.0,246.1 57.0,250.5 58.0,246.6 59.0,243.6 60.0,242.7 61.0,246.1 62.0,246.8 63.0,246.5 64.0,244.5 65.0,241.1 66.0,243.5 67.0,248.4 68.0,246.0 69.0,244.0 70.0,243.0 71.0,244.0 72.0,242.5 73.0,243.0 74.0,244.0 75.0,242.0 76.0,242.5 77.0,244.0 78.0,242.0 79.0,245.5 80.0,243.0 81.0,240.1 82.0,242.0 83.0,244.5 84.0,241.4 85.0,240.5 86.0,241.6 87.0,240.0 88.0,238.8 89.0,239.4 90.0,237.9 91.0,237.0 92.0,236.5 93.0,237.0 93.8,239.4 94.5,235.5 95.5,231.1 96.3,232.6 97.0,238.4 98.0,240.5 99.0,238.0 100.0,233.0 101.0,230.7 102.0,231.0 103.0,229.5 104.3,227.2 105.3,229.0 106.3,232.4 107.3,229.0 108.3,226.1 109.3,225.5 110.3,226.7 111.2,223.8 112.0,219.3 112.8,223.2 113.5,229.0 114.3,223.8 115.2,217.0 116.0,218.7 117.0,223.2 118.0,225.5 119.0,223.8 120.0,221.0 121.0,217.5 122.0,213.0 123.0,221.9 124.0,216.3 125.0,213.6 126.0,215.8 127.0,221.3 127.8,223.5 128.7,217.4 129.5,213.6 130.5,214.1 131.3,210.8 132.3,203.6 133.2,205.3 134.0,209.1 135.0,218.5 135.8,214.1 136.6,204.7 137.5,202.5 138.3,204.2 139.0,205.3 140.0,200.3 141.0,198.1 142.0,198.6 143.0,197.0 143.8,199.7 144.6,207.5 145.5,208.0 146.3,200.8 147.0,196.4 148.0,193.6 148.5,196.2 149.5,194.5 150.5,189.7 151.4,182.3 152.3,187.2 153.3,192.9 154.5,199.4 155.8,198.8 156.7,188.5 157.6,182.3 158.6,184.5 159.5,187.4 160.4,190.8 161.2,186.2 162.0,190.8 163.0,192.5 164.0,193.7 165.0,195.9 166.0,185.1 166.7,179.4 167.7,182.8 168.6,184.5 169.6,188.0 170.5,191.4 171.5,194.2 172.5,189.7 173.5,185.7 174.5,184.5 175.5,181.7 176.2,176.6 177.2,178.8 178.2,180.5 179.0,176.0 179.6,173.7 180.5,179.4 181.3,182.8 182.3,185.1 183.2,186.8 184.0,185.1 185.0,182.3 186.0,179.4 187.0,183.7 188.0,190.8 189.0,192.5 190.0,193.5 191.0,195.5 192.5,189.1 193.2,184.2 194.2,186.7 195.0,190.0 196.0,194.0 196.8,201.2 197.7,198.0 198.6,202.4 199.5,209.8 200.5,206.7 201.3,203.6 202.2,206.1 203.2,209.8 204.3,211.7 205.2,209.8 206.4,206.7 207.5,210.4 208.6,212.3 209.6,209.2 210.6,210.4 211.4,216.6 212.3,221.6 213.3,220.4 214.3,221.0 215.2,223.5 216.2,221.0 217.3,219.1 218.3,220.4 219.3,219.7 220.3,214.8 221.0,211.7 222.0,217.3 222.9,223.5 224.0,228.0 225.2,226.5 226.4,228.5 227.4,231.0 228.5,228.5 229.5,231.0 230.6,229.1 231.6,235.0 232.8,231.0 234.0,237.6 235.1,235.6 236.2,238.5 237.6,238.3 238.6,246.1 239.7,249.4 241.2,250.0 242.8,248.7 244.1,248.0 245.4,249.4 246.5,250.0 247.5,253.3 248.2,256.5 249.3,253.3 250.6,250.0 252.0,249.4 253.0,250.7 254.0,246.1 254.6,242.8 255.7,246.8 256.7,250.0 257.8,252.6 259.0,250.0 260.2,253.3 261.3,255.9 262.6,256.5 263.8,257.2 265.0,256.5 266.0,257.2 267.0,252.0 268.2,250.7 269.5,251.3 270.4,250.7 271.6,247.6 272.6,252.6 274.0,250.6 275.2,253.2 276.5,255.8 277.7,253.2 279.0,254.5 280.2,257.8 281.3,253.2 282.5,251.9 283.7,255.2 285.0,257.8 286.3,254.5 287.5,253.2 288.8,251.3 290.0,253.9 291.3,255.8 292.5,254.5 293.8,256.5 295.0,255.2 296.3,257.8 297.6,259.0 299.0,255.2 300.5,256.5 302.0,254.5 303.3,252.6 304.6,254.5 305.7,251.3 306.7,250.6 307.8,241.5 308.6,246.0 310.0,253.4 311.5,249.5 313.0,246.6 314.5,252.0 316.0,248.0 317.0,246.6 318.3,251.5 319.6,248.0 320.5,246.1 321.5,251.5 322.2,237.8 325.2,237.6" fill="none" stroke="#0505cc" stroke-width="2.4" stroke-linejoin="round"/>
<polyline points="337.4,237.9 339.0,237.9 340.3,237.3 341.4,233.3 342.5,231.6 343.6,230.5 344.6,228.8 345.5,231.6 346.8,223.7 347.8,217.4 348.5,219.7 349.3,228.2 350.3,238.5 351.0,240.2 352.0,234.5 353.2,229.9" fill="none" stroke="#0505cc" stroke-width="2.4" stroke-linejoin="round"/>
<g stroke="#000" stroke-width="1.8" fill="none"><path d="M143.35 161.05 h5.3 M146.00 158.4 v5.3" /><path d="M179.45 161.05 h5.3 M182.10 158.4 v5.3" /><path d="M195.55 161.05 h5.3 M198.20 158.4 v5.3" /><path d="M210.75 161.05 h5.3 M213.40 158.4 v5.3" /><path d="M224.75 161.05 h5.3 M227.40 158.4 v5.3" /><path d="M250.85 161.05 h5.3 M253.50 158.4 v5.3" /><path d="M265.75 161.05 h5.3 M268.40 158.4 v5.3" /><path d="M279.45 161.05 h5.3 M282.10 158.4 v5.3" /><path d="M291.85 161.05 h5.3 M294.50 158.4 v5.3" /><path d="M323.35 161.05 h5.3 M326.00 158.4 v5.3" /><path d="M337.35 161.05 h5.3 M340.00 158.4 v5.3" /></g>
<g stroke="#222" stroke-width="1" fill="none">
<path d="M13.5 0.5 H356.5 V266.5 H13.5 Z" />
<line x1="23.30" y1="256.9" x2="23.30" y2="266" /><line x1="30.30" y1="261.5" x2="30.30" y2="266" /><line x1="37.30" y1="261.5" x2="37.30" y2="266" /><line x1="44.30" y1="261.5" x2="44.30" y2="266" /><line x1="51.30" y1="261.5" x2="51.30" y2="266" /><line x1="58.30" y1="259.3" x2="58.30" y2="266" /><line x1="65.30" y1="261.5" x2="65.30" y2="266" /><line x1="72.30" y1="261.5" x2="72.30" y2="266" /><line x1="79.30" y1="261.5" x2="79.30" y2="266" /><line x1="86.30" y1="261.5" x2="86.30" y2="266" /><line x1="93.30" y1="256.9" x2="93.30" y2="266" /><line x1="100.30" y1="261.5" x2="100.30" y2="266" /><line x1="107.30" y1="261.5" x2="107.30" y2="266" /><line x1="114.30" y1="261.5" x2="114.30" y2="266" /><line x1="121.30" y1="261.5" x2="121.30" y2="266" /><line x1="128.30" y1="259.3" x2="128.30" y2="266" /><line x1="135.30" y1="261.5" x2="135.30" y2="266" /><line x1="142.30" y1="261.5" x2="142.30" y2="266" /><line x1="149.30" y1="261.5" x2="149.30" y2="266" /><line x1="156.30" y1="261.5" x2="156.30" y2="266" /><line x1="163.30" y1="256.9" x2="163.30" y2="266" /><line x1="170.30" y1="261.5" x2="170.30" y2="266" /><line x1="177.30" y1="261.5" x2="177.30" y2="266" /><line x1="184.30" y1="261.5" x2="184.30" y2="266" /><line x1="191.30" y1="261.5" x2="191.30" y2="266" /><line x1="198.30" y1="259.3" x2="198.30" y2="266" /><line x1="205.30" y1="261.5" x2="205.30" y2="266" /><line x1="212.30" y1="261.5" x2="212.30" y2="266" /><line x1="219.30" y1="261.5" x2="219.30" y2="266" /><line x1="226.30" y1="261.5" x2="226.30" y2="266" /><line x1="233.30" y1="256.9" x2="233.30" y2="266" /><line x1="240.30" y1="261.5" x2="240.30" y2="266" /><line x1="247.30" y1="261.5" x2="247.30" y2="266" /><line x1="254.30" y1="261.5" x2="254.30" y2="266" /><line x1="261.30" y1="261.5" x2="261.30" y2="266" /><line x1="268.30" y1="259.3" x2="268.30" y2="266" /><line x1="275.30" y1="261.5" x2="275.30" y2="266" /><line x1="282.30" y1="261.5" x2="282.30" y2="266" /><line x1="289.30" y1="261.5" x2="289.30" y2="266" /><line x1="296.30" y1="261.5" x2="296.30" y2="266" /><line x1="303.30" y1="256.9" x2="303.30" y2="266" /><line x1="310.30" y1="261.5" x2="310.30" y2="266" /><line x1="317.30" y1="261.5" x2="317.30" y2="266" /><line x1="324.30" y1="261.5" x2="324.30" y2="266" /><line x1="331.30" y1="261.5" x2="331.30" y2="266" /><line x1="338.30" y1="259.3" x2="338.30" y2="266" /><line x1="345.30" y1="261.5" x2="345.30" y2="266" /><line x1="352.30" y1="261.5" x2="352.30" y2="266" />
</g>
<g filter="url(#soft)">
<text x="14.57" y="283.2" font-size="13.5" textLength="17.45" lengthAdjust="spacingAndGlyphs" fill="#000" stroke="#000">2.6</text>
<text x="84.57" y="283.2" font-size="13.5" textLength="17.45" lengthAdjust="spacingAndGlyphs" fill="#000" stroke="#000">2.8</text>
<text x="154.57" y="283.2" font-size="13.5" textLength="17.45" lengthAdjust="spacingAndGlyphs" fill="#000" stroke="#000">3.0</text>
<text x="224.57" y="283.2" font-size="13.5" textLength="17.45" lengthAdjust="spacingAndGlyphs" fill="#000" stroke="#000">3.2</text>
<text x="294.57" y="283.2" font-size="13.5" textLength="17.45" lengthAdjust="spacingAndGlyphs" fill="#000" stroke="#000">3.4</text>
<text x="151.65" y="304.6" font-size="13.5" textLength="66.96" lengthAdjust="spacingAndGlyphs" fill="#000" stroke="#000">Energy (eV)</text>
<text x="26.64" y="18.9" font-size="13.5" textLength="70.48" lengthAdjust="spacingAndGlyphs" fill="#000" stroke="#000">100 nm ZnO</text>
<text x="27.57" y="32.7" font-size="13.5" textLength="73.47" lengthAdjust="spacingAndGlyphs" fill="#000" stroke="#000">nanoparticles</text>
<text x="39.61" y="112.7" font-size="13.5" textLength="99.21" lengthAdjust="spacingAndGlyphs" fill="#ff0000" stroke="#ff0000">3.2 THz&#160; 6.7 J/cm</text>
<text x="138.60" y="104.5" font-size="9.8" fill="#ff0000" stroke="#ff0000">2</text>
<text x="88.61" y="132.1" font-size="13.5" textLength="47.41" lengthAdjust="spacingAndGlyphs" fill="#000" stroke="#000">5.1 J/cm</text>
<text x="136.20" y="124.0" font-size="9.8" fill="#000" stroke="#000">2</text>
<text x="143.42" y="132.1" font-size="13.5" textLength="29.02" lengthAdjust="spacingAndGlyphs" fill="#000" stroke="#000">(x30)</text>
<text x="234.41" y="216.5" font-size="13.5" textLength="96.06" lengthAdjust="spacingAndGlyphs" fill="#1515ff" stroke="#1515ff">5.2 THz&#160; 11 J/cm</text>
<text x="330.40" y="208.4" font-size="9.8" fill="#1515ff" stroke="#1515ff">2</text>
<text x="301.03" y="234.0" font-size="13.5" textLength="36.15" lengthAdjust="spacingAndGlyphs" fill="#1515ff" stroke="#1515ff">(x100)</text>
<text transform="translate(9.2,149.8) rotate(-90)" text-anchor="middle" font-size="13" fill="#000" stroke="#000">Intensity (arb. units)</text>
<rect x="27" y="18" width="3" height="1" fill="#fff"/><rect x="31" y="18" width="3" height="1" fill="#fff"/><rect x="99" y="131" width="3" height="1" fill="#fff"/><rect x="104" y="131" width="2" height="1" fill="#fff"/><rect x="287" y="216" width="2" height="1" fill="#fff"/><rect x="291" y="216" width="2" height="1" fill="#fff"/><rect x="292" y="216" width="3" height="1" fill="#fff"/><rect x="297" y="216" width="3" height="1" fill="#fff"/><rect x="311" y="233" width="4" height="1" fill="#fff"/><rect x="316" y="233" width="3" height="1" fill="#fff"/>
</g>
<polygon points="325.9,212.9 327.8,212.9 328.7,215.8 329.7,218.4 330.4,221.6 328.7,221.9 327.8,221.0 327.0,221.9 325.4,221.6 325.5,218.4 325.9,215.8" fill="#0505c8" stroke="#0505c8" stroke-width="0.4" stroke-linejoin="round"/>
</svg>
</body></html>
